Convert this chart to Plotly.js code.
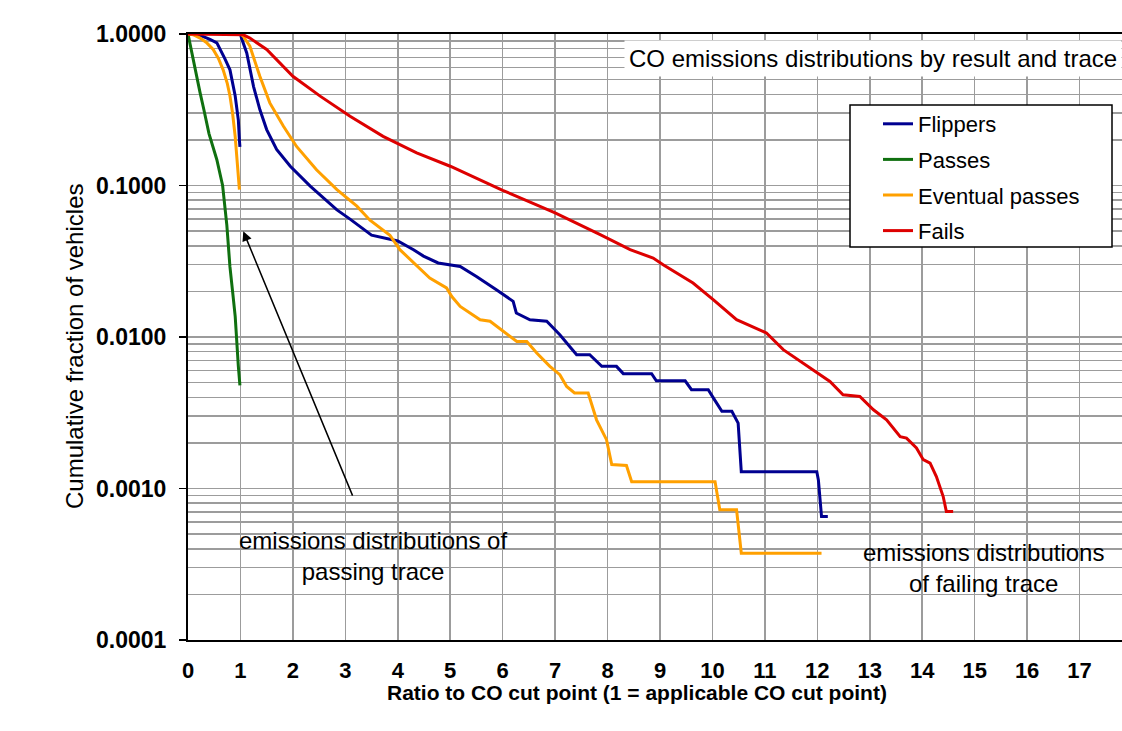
<!DOCTYPE html>
<html>
<head>
<meta charset="utf-8">
<script src="https://cdn.plot.ly/plotly-3.0.1.min.js"></script>
<style>
  html, body { margin: 0; padding: 0; overflow: hidden; background: #ffffff; }
  #chart { width: 1140px; height: 731px; }
</style>
</head>
<body>
<div id="chart"></div>
<script>
// CO emissions: cumulative fraction of vehicles above each ratio to the cut point.
// Each series holds the passing-trace curve (0..1) and, after a null break,
// the failing-trace curve (from 1 upward).

const seriesNames = ["Flippers", "Passes", "Eventual passes", "Fails"];

const flippersX = [0, 0.1, 0.23, 0.42, 0.55, 0.7, 0.8, 0.9, 0.96, 0.98, 0.99,
  null,
  1.0, 1.02, 1.12, 1.25, 1.37, 1.5, 1.69, 1.95, 2.33, 2.84, 3.09, 3.5, 4.0, 4.3, 4.49, 4.77,
  5.19, 5.5, 5.88, 6.2, 6.26, 6.52, 6.84, 7.09, 7.41, 7.66, 7.89, 8.17, 8.3, 8.84, 8.93,
  9.48, 9.6, 9.92, 10.02, 10.18, 10.37, 10.49, 10.55, 11.99, 12.02, 12.08, 12.2];
const flippersY = [1, 0.995, 0.98, 0.92, 0.875, 0.69, 0.58, 0.39, 0.27, 0.2, 0.18,
  null,
  1.0, 0.94, 0.75, 0.45, 0.317, 0.234, 0.173, 0.134, 0.099, 0.069, 0.06, 0.047, 0.043, 0.0377,
  0.0342, 0.0308, 0.0292, 0.0251, 0.0205, 0.0172, 0.0144, 0.013, 0.0127, 0.01035, 0.00764,
  0.00764, 0.0064, 0.0064, 0.00573, 0.00573, 0.00514, 0.00514, 0.00449, 0.00449, 0.00395,
  0.00323, 0.00323, 0.0027, 0.00129, 0.00129, 0.00114, 0.000653, 0.000653];

const passesX = [0, 0.05, 0.1, 0.15, 0.23, 0.3, 0.4, 0.55, 0.66, 0.74, 0.8, 0.85, 0.9, 0.96, 0.99];
const passesY = [1, 0.82, 0.66, 0.55, 0.41, 0.32, 0.22, 0.148, 0.1, 0.055, 0.029, 0.02, 0.0137, 0.0064, 0.0048];

const eventualX = [0, 0.1, 0.23, 0.35, 0.48, 0.58, 0.67, 0.75, 0.8, 0.85, 0.9, 0.94, 0.98,
  null,
  1.0, 1.05, 1.18, 1.37, 1.56, 1.82, 2.07, 2.45, 2.84, 3.22, 3.47, 3.85, 4.04, 4.3, 4.61,
  4.93, 5.03, 5.19, 5.57, 5.76, 6.01, 6.27, 6.46, 6.65, 6.9, 7.09, 7.22, 7.37, 7.63, 7.79,
  7.98, 8.08, 8.36, 8.46, 10.05, 10.14, 10.46, 10.55, 12.08];
const eventualY = [1, 0.99, 0.94, 0.88, 0.79, 0.69, 0.58, 0.47, 0.39, 0.3, 0.21, 0.141, 0.094,
  null,
  1.0, 0.97, 0.83, 0.526, 0.351, 0.246, 0.181, 0.127, 0.094, 0.073, 0.059, 0.047, 0.0377,
  0.0308, 0.0245, 0.0211, 0.0185, 0.0159, 0.013, 0.0127, 0.0109, 0.00935, 0.00935, 0.00784,
  0.0064, 0.00564, 0.00472, 0.00427, 0.00427, 0.00284, 0.0021, 0.00144, 0.00142, 0.00111,
  0.00111, 0.000724, 0.000724, 0.000374, 0.000374];

const failsX = [0, 1.0, 1.05, 1.18, 1.5, 2.0, 2.52, 3.09, 3.72, 4.36, 5.0, 6.0, 7.0, 7.86,
  8.43, 8.87, 9.06, 9.63, 10.02, 10.46, 11.03, 11.35, 11.92, 12.24, 12.49, 12.81, 13.07,
  13.32, 13.58, 13.7, 13.89, 14.02, 14.15, 14.27, 14.4, 14.46, 14.59];
const failsY = [1, 1, 0.99, 0.94, 0.79, 0.526, 0.389, 0.286, 0.211, 0.164, 0.134, 0.093, 0.066,
  0.0474, 0.0377, 0.0332, 0.03, 0.0227, 0.0176, 0.013, 0.01063, 0.00825, 0.00608, 0.00509,
  0.00416, 0.00405, 0.00331, 0.00284, 0.0022, 0.00215, 0.00185, 0.00155, 0.00147, 0.0012,
  0.000885, 0.000705, 0.000705];

const xTickVals = [0, 1, 2, 3, 4, 5, 6, 7, 8, 9, 10, 11, 12, 13, 14, 15, 16, 17, 18];
const yTickVals = [0.0001, 0.001, 0.01, 0.1, 1];
const yTickText = ["0.0001", "0.0010", "0.0100", "0.1000", "1.0000"];

const seriesColors = ["#000090", "#107010", "#ffa000", "#dd0000"];

// Minor log gridlines at 2..9 within each decade
const minorGrid = [];
for (const d of [0.0001, 0.001, 0.01, 0.1]) {
  for (let m = 2; m <= 9; m++) minorGrid.push(+(m * d).toPrecision(3));
}

const FONT = "Liberation Sans, Arial, sans-serif";
const gridColor = "#9c9c9c";

const xs = [flippersX, passesX, eventualX, failsX];
const ys = [flippersY, passesY, eventualY, failsY];

const traces = seriesNames.map((name, i) => ({
  type: "scatter",
  mode: "lines",
  name: name,
  x: xs[i],
  y: ys[i],
  connectgaps: false,
  legendgroup: "g" + i,
  line: { color: seriesColors[i], width: 3 },
  hoverinfo: "x+y+name"
}));

// Plot area spans 188..1132 px horizontally and 34..640 px vertically
const L = 188, R = 1132, T = 34, B = 640;
const px = v => (v - L) / (R - L);
const py = v => (B - v) / (B - T);

const layout = {
  width: 1140,
  height: 731,
  margin: { l: L, r: 1140 - R, t: T, b: 731 - B, pad: 0 },
  paper_bgcolor: "#ffffff",
  plot_bgcolor: "#ffffff",
  font: { family: FONT, size: 22, color: "#000000" },
  showlegend: true,
  legend: {
    x: px(878), y: py(103), xanchor: "left", yanchor: "top",
    bgcolor: "rgba(0,0,0,0)", borderwidth: 0,
    font: { family: FONT, size: 22, color: "#000000" },
    tracegroupgap: 4
  },
  xaxis: {
    range: [0, 18],
    tickmode: "array",
    tickvals: xTickVals,
    ticks: "",
    tickfont: { family: FONT, size: 22, color: "#000000", weight: "bold" },
    ticklabelstandoff: 10,
    showgrid: true, gridcolor: gridColor, gridwidth: 1.5,
    showline: true, linecolor: "#000000", linewidth: 2, mirror: true,
    zeroline: false,
    automargin: false
  },
  yaxis: {
    type: "log",
    range: [-4, 0],
    tickmode: "array",
    tickvals: yTickVals,
    ticktext: yTickText,
    ticks: "outside", ticklen: 7, tickwidth: 1.5, tickcolor: "#000000",
    tickfont: { family: FONT, size: 23, color: "#000000", weight: "bold" },
    ticklabelstandoff: 8,
    showgrid: true, gridcolor: gridColor, gridwidth: 1.5,
    minor: { tickmode: "array", tickvals: minorGrid, showgrid: true, gridcolor: gridColor, gridwidth: 1.5, ticks: "" },
    showline: true, linecolor: "#000000", linewidth: 2,
    zeroline: false,
    automargin: false
  },
  shapes: [
    {
      type: "rect", xref: "paper", yref: "paper", layer: "above",
      x0: px(850), x1: px(1112), y0: py(247), y1: py(105),
      fillcolor: "#ffffff", line: { color: "#000000", width: 1.5 }
    }
  ],
  annotations: [
    {
      // x-axis title
      xref: "paper", yref: "paper", x: px(637), y: py(692),
      xanchor: "center", yanchor: "middle", showarrow: false,
      text: "Ratio to CO cut point (1 = applicable CO cut point)",
      font: { family: FONT, size: 21, color: "#000000", weight: "bold" }
    },
    {
      // y-axis title
      xref: "paper", yref: "paper", x: px(74), y: py(347),
      xanchor: "center", yanchor: "middle", showarrow: false, textangle: -90,
      text: "Cumulative fraction of vehicles",
      font: { family: FONT, size: 24, color: "#000000" }
    },
    {
      xref: "paper", yref: "paper", x: px(873), y: py(58),
      xanchor: "center", yanchor: "middle", showarrow: false,
      text: "CO emissions distributions by result and trace",
      font: { family: FONT, size: 24, color: "#000000" },
      bgcolor: "#ffffff", borderpad: 4
    },
    {
      xref: "paper", yref: "paper", x: px(373), y: py(556),
      xanchor: "center", yanchor: "middle", showarrow: false, align: "center",
      text: "emissions distributions of<br>passing trace",
      font: { family: FONT, size: 24, color: "#000000" }
    },
    {
      xref: "paper", yref: "paper", x: px(983), y: py(568),
      xanchor: "center", yanchor: "middle", showarrow: false, align: "center",
      text: "emissions distributions<br>of failing trace",
      font: { family: FONT, size: 24, color: "#000000" }
    },
    {
      // arrow pointing at the passing-trace curves near the cut point
      xref: "x", yref: "y", axref: "x", ayref: "y",
      x: 1.054, y: -1.302, ax: 3.15, ay: -3.057,
      text: "", showarrow: true,
      arrowhead: 2, arrowsize: 1.3, arrowwidth: 1.5, arrowcolor: "#000000"
    }
  ]
};

Plotly.newPlot("chart", traces, layout, { displayModeBar: false, staticPlot: true });
</script>
</body>
</html>
